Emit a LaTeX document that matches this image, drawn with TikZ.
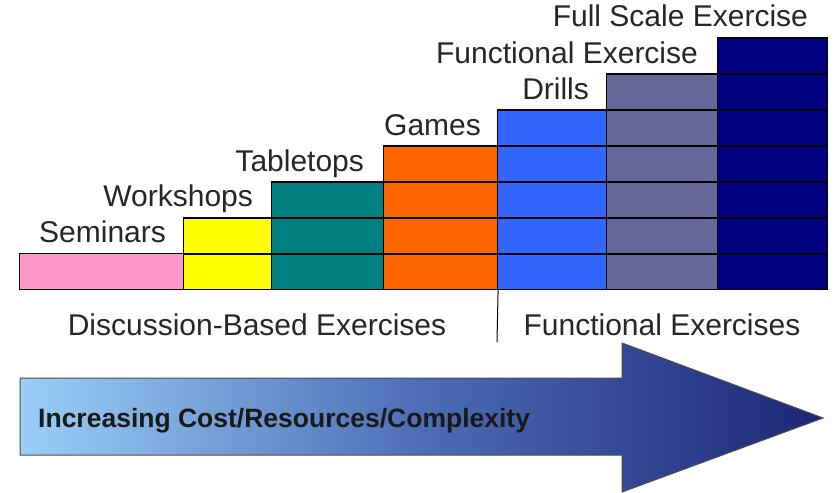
\documentclass[tikz,border=0pt]{standalone}
\usepackage{fontspec}
\setmainfont{Liberation Sans}
\usetikzlibrary{positioning}

\definecolor{seminarpink}{HTML}{FF99CC}
\definecolor{workshopyellow}{HTML}{FFFF00}
\definecolor{tabletopteal}{HTML}{008080}
\definecolor{gameorange}{HTML}{FF6600}
\definecolor{drillblue}{HTML}{3366FF}
\definecolor{functionalgrey}{HTML}{666699}
\definecolor{fullnavy}{HTML}{000080}
\definecolor{arrowlight}{HTML}{9ACFF7}
\definecolor{arrowmid}{HTML}{4D6DB6}
\definecolor{arrowdark}{HTML}{1C2675}

\begin{document}
\begin{tikzpicture}[
    x=1pt, y=-1pt,
    % Stacked column, one cell per row of 36pt
    exercise_col/.style={rectangle, draw=black, line width=1.1pt, inner sep=0pt, anchor=south west, minimum height=#1*36pt},
    % Row divider inside a column
    row_line/.style={line width=1.1pt, color=black},
    % Label over each column
    step_label/.style={anchor=base east, inner sep=0pt, text=black!85, font=\fontsize{30}{36}\selectfont},
    % Group labels under the columns
    group_label/.style={anchor=base, inner sep=0pt, text=black!85, font=\fontsize{30}{36}\selectfont},
    divider/.style={line width=1pt, color=black}
]
    \useasboundingbox (0,0) rectangle (839,493);

    % --- COLUMNS ---
    \node[exercise_col=1, fill=seminarpink, minimum width=164pt] (sem) at (19,290) {};
    \node[exercise_col=2, fill=workshopyellow, minimum width=88pt] (wks) at (183,290) {};
    \node[exercise_col=3, fill=tabletopteal, minimum width=112pt] (tab) at (271,290) {};
    \node[exercise_col=4, fill=gameorange, minimum width=114pt] (gam) at (383,290) {};
    \node[exercise_col=5, fill=drillblue, minimum width=109pt] (dri) at (497,290) {};
    \node[exercise_col=6, fill=functionalgrey, minimum width=111pt] (fun) at (606,290) {};
    \node[exercise_col=7, fill=fullnavy, minimum width=110pt] (ful) at (717,290) {};

    % Row lines
    \foreach \col/\n in {wks/2, tab/3, gam/4, dri/5, fun/6, ful/7}
        \foreach \k in {1,...,\n}
            \draw[row_line] ([yshift=\k*36pt]\col.south west) -- ([yshift=\k*36pt]\col.south east);

    % --- COLUMN LABELS ---
    \node[step_label] (semlabel) at ([xshift=-18pt, yshift=10pt]sem.north east) {Seminars};
    \node[step_label] (wkslabel) at ([xshift=-19pt, yshift=10pt]wks.north east) {Workshops};
    \node[step_label] (tablabel) at ([xshift=-20pt, yshift=9pt]tab.north east) {Tabletops};
    \node[step_label] (gamlabel) at ([xshift=-17pt, yshift=9pt]gam.north east) {Games};
    \node[step_label] (drilabel) at ([xshift=-18pt, yshift=9pt]dri.north east) {Drills};
    \node[step_label] (funlabel) at ([xshift=-20pt, yshift=9pt]fun.north east) {Functional Exercise};
    \node[step_label] (fullabel) at ([xshift=-20pt, yshift=10pt]ful.north east) {Full Scale Exercise};

    % --- GROUPS ---
    \coordinate (split_end) at (497,342);
    \draw[divider] (gam.south east) -- (split_end);
    \node[group_label] (discussion) at (257,335) {Discussion-Based Exercises};
    \node[group_label] (functional) at (662,335) {Functional Exercises};

    % --- ARROW ---
    \path[left color=arrowlight, right color=arrowdark, middle color=arrowmid]
        (20,378) -- (622,378) -- (622,343) -- (823,418) -- (622,492) -- (622,455) -- (20,455) -- cycle;
    \draw[line width=1pt, color=black!70]
        (20,378) -- (622,378) -- (622,343) -- (823,418) -- (622,492) -- (622,455) -- (20,455) -- cycle;
    \node[anchor=base west, inner sep=0pt, text=black!90, font=\fontsize{26.5}{30}\selectfont\bfseries] (cost) at (38,427) {Increasing Cost/Resources/Complexity};

\end{tikzpicture}
\end{document}
